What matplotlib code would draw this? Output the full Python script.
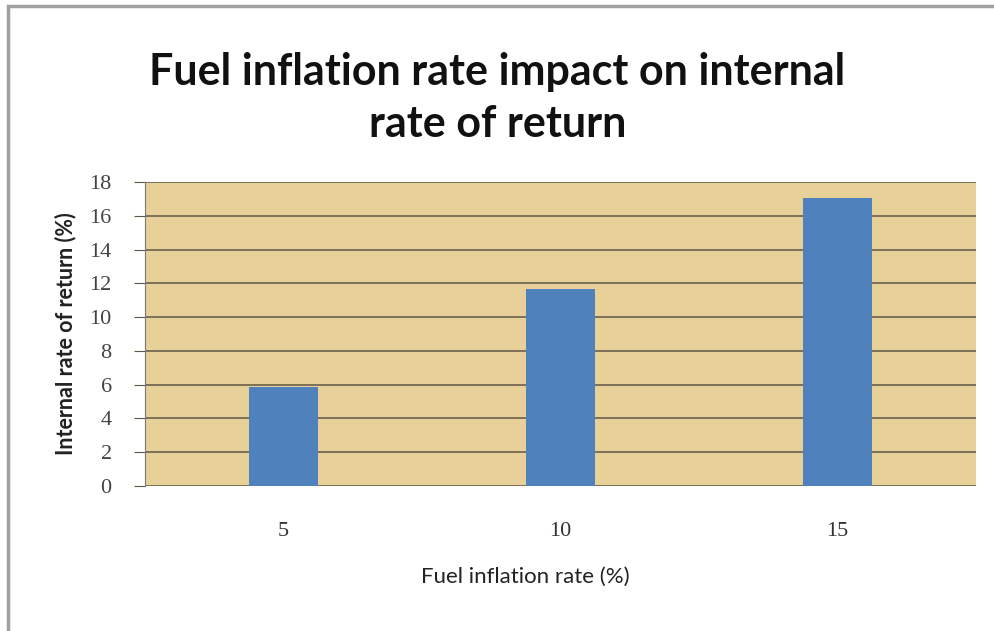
import matplotlib.pyplot as plt
from matplotlib.patches import Rectangle

# valores
categorias = ["5", "10", "15"]
tir = [5.85, 11.65, 17.05]
y_ticks = [0, 2, 4, 6, 8, 10, 12, 14, 16, 18]

titulo = "Fuel inflation rate impact on internal\nrate of return"
etiqueta_x = "Fuel inflation rate (%)"
etiqueta_y = "Internal rate of return (%)"


def graficar(output_path):
    fig = plt.figure(figsize=(9.95, 6.31), dpi=100)
    fig.patch.set_facecolor("white")

    # marco exterior
    fig.add_artist(Rectangle((0.008, -0.01), 1.2, 1.0, transform=fig.transFigure,
                             fill=False, edgecolor="#a0a0a0", linewidth=2.5))

    ax = fig.add_axes([0.1457, 0.2298, 0.8353, 0.4818])
    ax.set_facecolor("#e8d199")

    x = range(len(categorias))
    ax.bar(x, tir, width=0.25, color="#4f81bd", zorder=3)

    ax.set_xlim(-0.5, len(categorias) - 0.5)
    ax.set_ylim(0, 18)
    ax.set_yticks(y_ticks)
    ax.set_xticks(list(x))
    ax.set_xticklabels(categorias, family="Liberation Serif", fontsize=16, color="#333333")
    ax.set_yticklabels([str(v) for v in y_ticks], family="Liberation Serif", fontsize=16, color="#444444")

    ax.grid(axis="y", color="#5e5646", linewidth=1.1, zorder=1)
    for spine in ["top", "right", "bottom"]:
        ax.spines[spine].set_visible(False)
    ax.spines["left"].set_color("#7a7a7a")
    ax.tick_params(axis="y", length=8, color="#5e5646", pad=16)
    ax.tick_params(axis="x", length=0, pad=26)

    ax.set_xlabel(etiqueta_x, family="Lato", fontsize=16, color="#222222")
    ax.xaxis.set_label_coords(0.458, -0.265)
    ax.set_ylabel(etiqueta_y, family="Lato", fontsize=15.5, fontweight="bold", color="#222222")
    ax.yaxis.set_label_coords(-0.083, 0.5)

    fig.text(0.5, 0.845, titulo, ha="center", va="center", family="Lato",
             fontweight="bold", fontsize=31, linespacing=1.38, color="#111111")

    fig.savefig(output_path, dpi=100)
    plt.close(fig)


def main():
    graficar("out.png")


if __name__ == "__main__":
    main()
